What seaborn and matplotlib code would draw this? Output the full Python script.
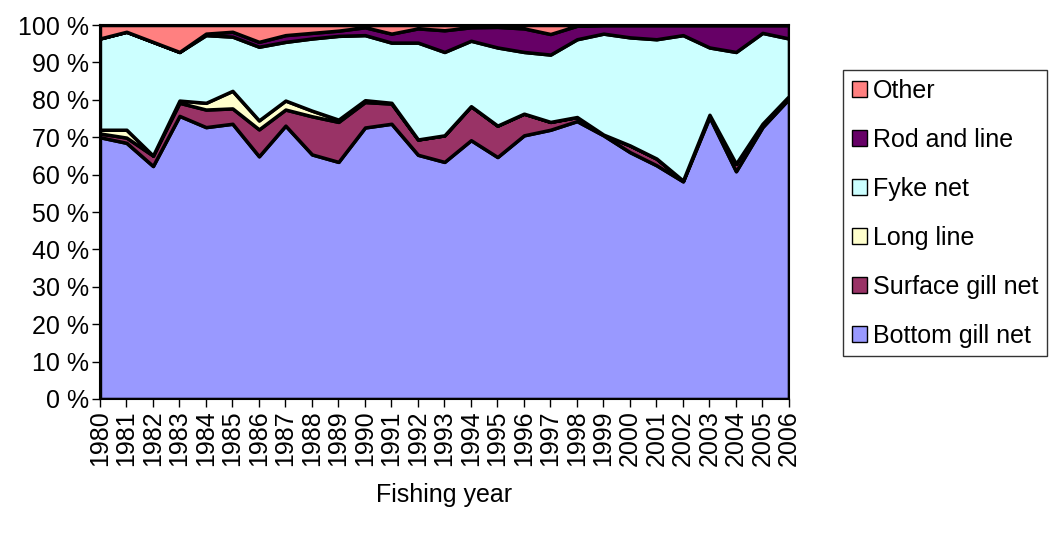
import pandas as pd
import seaborn as sns
import matplotlib
matplotlib.use("Agg")
import matplotlib.pyplot as plt
from matplotlib.patches import Patch
from matplotlib.ticker import FuncFormatter, MultipleLocator

# share of catch by fishing method (%)
years = list(range(1980, 2007))
bottom_gill = [70.0, 68.5, 62.3, 75.7, 72.7, 73.6, 64.9, 73.1, 65.4, 63.4, 72.6, 73.6, 65.3, 63.4,
               69.2, 64.7, 70.5, 72.0, 74.3, 70.5, 66.0, 62.5, 58.2, 75.4, 60.9, 72.7, 80.3]
surface_gill = [1.0, 1.4, 2.8, 3.5, 4.7, 4.1, 7.2, 4.3, 10.2, 10.7, 6.8, 5.4, 4.1, 7.1,
                9.1, 8.4, 5.8, 2.1, 1.1, 0.2, 1.8, 1.8, 0.2, 0.6, 2.0, 0.9, 0.7]
long_line = [1.0, 2.1, 0.0, 0.6, 1.8, 4.7, 2.4, 2.4, 1.5, 0.6, 0.5, 0.2, 0.0, 0.0,
             0.0, 0.0, 0.0, 0.0, 0.0, 0.0, 0.0, 0.0, 0.0, 0.0, 0.0, 0.0, 0.0]
fyke_net = [24.4, 26.2, 30.4, 13.0, 18.1, 14.5, 19.7, 15.7, 19.3, 22.4, 17.4, 16.1, 25.9, 22.3,
            17.5, 20.9, 16.5, 18.0, 20.8, 27.0, 28.9, 31.9, 38.9, 18.0, 29.9, 24.3, 15.4]
rod_line = [0.0, 0.0, 0.0, 0.0, 0.4, 1.3, 1.3, 1.8, 1.5, 1.4, 2.1, 2.4, 3.8, 5.8,
            3.6, 5.5, 6.3, 5.5, 3.6, 2.3, 3.3, 3.8, 2.7, 6.0, 7.2, 2.1, 3.6]
other = [3.6, 1.8, 4.5, 7.2, 2.3, 1.8, 4.5, 2.7, 2.1, 1.5, 0.6, 2.3, 0.9, 1.4,
         0.6, 0.5, 0.9, 2.4, 0.2, 0.0, 0.0, 0.0, 0.0, 0.0, 0.0, 0.0, 0.0]

labels = ["Bottom gill net", "Surface gill net", "Long line", "Fyke net", "Rod and line", "Other"]
colors = ["#9999FF", "#993366", "#FFFFCC", "#CCFFFF", "#660066", "#FF8080"]

df = pd.DataFrame({"year": years, labels[0]: bottom_gill, labels[1]: surface_gill,
                   labels[2]: long_line, labels[3]: fyke_net, labels[4]: rod_line,
                   labels[5]: other})
shares = df[labels].div(df[labels].sum(axis=1), axis=0) * 100

sns.set_style("white")
plt.rcParams['font.family'] = ['Liberation Sans', 'DejaVu Sans']
plt.rcParams['text.color'] = 'black'
plt.rcParams['xtick.color'] = 'black'
plt.rcParams['ytick.color'] = 'black'
plt.rcParams['axes.labelcolor'] = 'black'

fig = plt.figure(figsize=(10.5, 5.37), dpi=100)
ax = fig.add_axes([0.0952, 0.257, 0.6562, 0.6964])

ax.stackplot(df["year"], *[shares[c] for c in labels], colors=colors,
             edgecolor="black", linewidth=2.5)

ax.set_xlim(1980, 2006)
ax.set_ylim(0, 100)
ax.yaxis.set_major_locator(MultipleLocator(10))
ax.yaxis.set_major_formatter(FuncFormatter(lambda v, p: f"{v:.0f} %"))
ax.set_xticks(years)
ax.set_xticklabels([str(y) for y in years], rotation=90)
ax.tick_params(axis="both", which="both", bottom=True, left=True, direction="out",
               length=6, width=1, color="black", labelsize=18, pad=2)
for s in ax.spines.values():
    s.set_color("black")
    s.set_linewidth(1.5)

ax.set_xlabel("Fishing year", fontsize=18, labelpad=12)

handles = [Patch(facecolor=c, edgecolor="black", linewidth=1) for c in colors]
leg = ax.legend(handles[::-1], labels[::-1], loc="upper left",
                bbox_to_anchor=(0.803, 0.870), bbox_transform=fig.transFigure,
                fontsize=18, frameon=True, fancybox=False, edgecolor="black",
                handlelength=0.6, handleheight=0.6, handletextpad=0.25,
                labelspacing=1.0, borderpad=0.35, borderaxespad=0)
leg.get_frame().set_linewidth(1)

fig.savefig("out.png", dpi=100)
